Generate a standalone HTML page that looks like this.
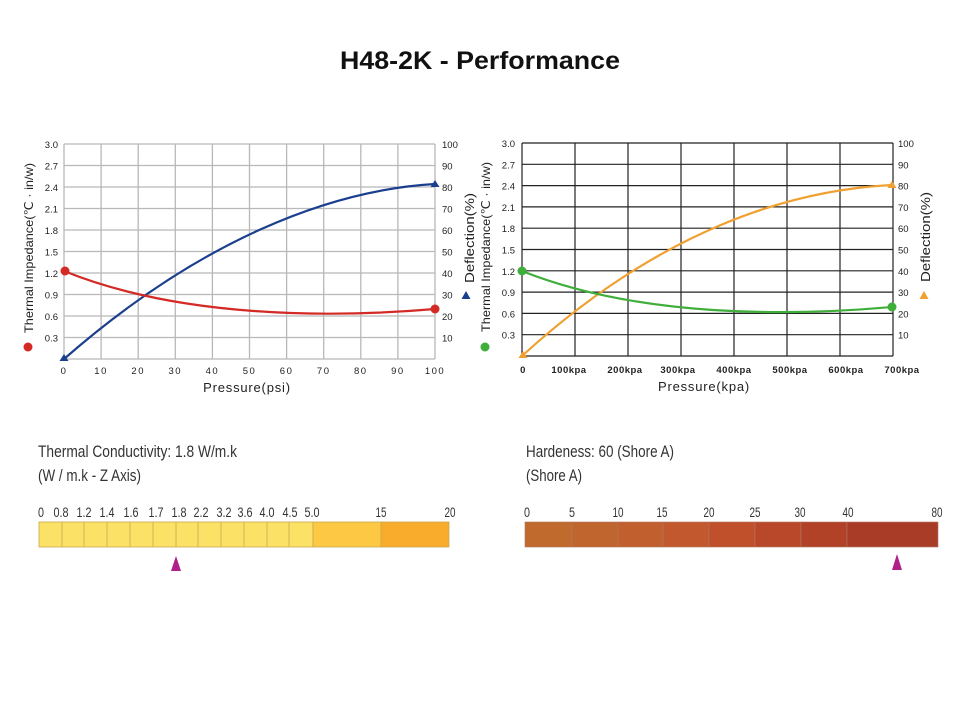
<!DOCTYPE html>
<html><head><meta charset="utf-8"><style>html,body{margin:0;padding:0;background:#fff}svg{display:block}</style></head><body>
<svg width="960" height="720" viewBox="0 0 960 720" xmlns="http://www.w3.org/2000/svg" font-family="Liberation Sans, sans-serif">
<text x="340" y="69" font-size="25" font-weight="bold" fill="#111" textLength="280" lengthAdjust="spacingAndGlyphs">H48-2K - Performance</text>

<!-- Left chart -->
<g stroke="#b8b8b8" stroke-width="1.3" fill="none">
<path d="M64,144V359M101.1,144V359M138.2,144V359M175.3,144V359M212.4,144V359M249.5,144V359M286.6,144V359M323.7,144V359M360.8,144V359M397.9,144V359M435,144V359"/>
<path d="M64,144H435M64,165.5H435M64,187H435M64,208.5H435M64,230H435M64,251.5H435M64,273H435M64,294.5H435M64,316H435M64,337.5H435M64,359H435"/>
</g>
<g font-size="9.5" fill="#222" text-anchor="end">
<text x="58" y="148">3.0</text><text x="58" y="169.5">2.7</text><text x="58" y="191">2.4</text><text x="58" y="212.5">2.1</text><text x="58" y="234">1.8</text><text x="58" y="255.5">1.5</text><text x="58" y="277">1.2</text><text x="58" y="298.5">0.9</text><text x="58" y="320">0.6</text><text x="58" y="341.5">0.3</text>
</g>
<g font-size="9.5" fill="#222">
<text x="442" y="148">100</text><text x="442" y="169.5">90</text><text x="442" y="191">80</text><text x="442" y="212.5">70</text><text x="442" y="234">60</text><text x="442" y="255.5">50</text><text x="442" y="277">40</text><text x="442" y="298.5">30</text><text x="442" y="320">20</text><text x="442" y="341.5">10</text>
</g>
<g font-size="9.5" fill="#222" text-anchor="middle" letter-spacing="1.5">
<text x="64" y="374">0</text><text x="101.1" y="374">10</text><text x="138.2" y="374">20</text><text x="175.3" y="374">30</text><text x="212.4" y="374">40</text><text x="249.5" y="374">50</text><text x="286.6" y="374">60</text><text x="323.7" y="374">70</text><text x="360.8" y="374">80</text><text x="397.9" y="374">90</text><text x="435" y="374">100</text>
</g>
<text x="247" y="392" text-anchor="middle" font-size="13" fill="#222" letter-spacing="0.8">Pressure(psi)</text>
<text transform="translate(33,248) rotate(-90)" text-anchor="middle" font-size="12" fill="#222" textLength="170" lengthAdjust="spacingAndGlyphs">Thermal Impedance(℃ · in/w)</text>
<circle cx="28" cy="347" r="4.5" fill="#d42a26"/>
<text transform="translate(474,238) rotate(-90)" text-anchor="middle" font-size="13" fill="#222" textLength="90" lengthAdjust="spacingAndGlyphs">Deflection(%)</text>
<path d="M466,291 L470.5,299 L461.5,299Z" fill="#1b3f8f"/>
<path d="M64,359 C200,240 330,190 435,184" stroke="#1b3f8f" stroke-width="2.2" fill="none"/>
<path d="M64,271 C180,318 330,318 435,309" stroke="#d42a26" stroke-width="2.2" fill="none"/>
<circle cx="65" cy="271" r="4.5" fill="#d42a26"/><circle cx="435" cy="309" r="4.5" fill="#d42a26"/>
<path d="M64,354 L68.5,361 L59.5,361Z" fill="#1b3f8f"/><path d="M435,180 L439.5,187 L430.5,187Z" fill="#1b3f8f"/>

<!-- Right chart -->
<g stroke="#222" stroke-width="1.2" fill="none">
<path d="M522,143V356M575,143V356M628,143V356M681,143V356M734,143V356M787,143V356M840,143V356M893,143V356"/>
<path d="M522,143H893M522,164.3H893M522,185.6H893M522,206.9H893M522,228.2H893M522,249.5H893M522,270.8H893M522,292.1H893M522,313.4H893M522,334.7H893M522,356H893"/>
</g>
<g font-size="9.5" fill="#222" text-anchor="end">
<text x="515" y="147">3.0</text><text x="515" y="168.3">2.7</text><text x="515" y="189.6">2.4</text><text x="515" y="210.9">2.1</text><text x="515" y="232.2">1.8</text><text x="515" y="253.5">1.5</text><text x="515" y="274.8">1.2</text><text x="515" y="296.1">0.9</text><text x="515" y="317.4">0.6</text><text x="515" y="338.7">0.3</text>
</g>
<g font-size="9.5" fill="#222">
<text x="898" y="147">100</text><text x="898" y="168.3">90</text><text x="898" y="189.6">80</text><text x="898" y="210.9">70</text><text x="898" y="232.2">60</text><text x="898" y="253.5">50</text><text x="898" y="274.8">40</text><text x="898" y="296.1">30</text><text x="898" y="317.4">20</text><text x="898" y="338.7">10</text>
</g>
<g font-size="9.5" fill="#222" text-anchor="middle" font-weight="bold" letter-spacing="0.5">
<text x="523" y="373">0</text><text x="569" y="373">100kpa</text><text x="625" y="373">200kpa</text><text x="678" y="373">300kpa</text><text x="734" y="373">400kpa</text><text x="790" y="373">500kpa</text><text x="846" y="373">600kpa</text><text x="902" y="373">700kpa</text>
</g>
<text x="704" y="391" text-anchor="middle" font-size="13" fill="#222" letter-spacing="0.8">Pressure(kpa)</text>
<text transform="translate(490,247) rotate(-90)" text-anchor="middle" font-size="12" fill="#222" textLength="170" lengthAdjust="spacingAndGlyphs">Thermal Impedance(℃ · in/w)</text>
<circle cx="485" cy="347" r="4.5" fill="#3fae3a"/>
<text transform="translate(930,237) rotate(-90)" text-anchor="middle" font-size="13" fill="#222" textLength="90" lengthAdjust="spacingAndGlyphs">Deflection(%)</text>
<path d="M924,291 L928.5,299 L919.5,299Z" fill="#f0a030"/>
<path d="M522,356 C660,230 790,190 892,185" stroke="#f0a030" stroke-width="2.2" fill="none"/>
<path d="M522,271 C640,318 790,316 892,307" stroke="#3fae3a" stroke-width="2.2" fill="none"/>
<circle cx="522" cy="271" r="4.5" fill="#3fae3a"/><circle cx="892" cy="307" r="4.5" fill="#3fae3a"/>
<path d="M523,351 L527.5,358 L518.5,358Z" fill="#f0a030"/><path d="M892,181 L896.5,188 L887.5,188Z" fill="#f0a030"/>

<!-- Labels -->
<g font-size="17" fill="#333">
<text x="38" y="457" textLength="199" lengthAdjust="spacingAndGlyphs">Thermal Conductivity: 1.8 W/m.k</text>
<text x="38" y="481" textLength="103" lengthAdjust="spacingAndGlyphs">(W / m.k - Z Axis)</text>
<text x="526" y="457" textLength="148" lengthAdjust="spacingAndGlyphs">Hardeness: 60 (Shore A)</text>
<text x="526" y="481" textLength="56" lengthAdjust="spacingAndGlyphs">(Shore A)</text>
</g>
<g stroke="#c8a850" stroke-width="0.8">
<rect x="39" y="522" width="274" height="25" fill="#fbe266"/>
<rect x="313" y="522" width="68" height="25" fill="#fdc944"/>
<rect x="381" y="522" width="68" height="25" fill="#f9ab2c"/>
<path d="M62,522V547M84,522V547M107,522V547M130,522V547M153,522V547M176,522V547M198,522V547M221,522V547M244,522V547M267,522V547M289,522V547" fill="none"/>
</g>
<g font-size="14" fill="#333" text-anchor="middle">
<text x="41" y="517" textLength="6" lengthAdjust="spacingAndGlyphs">0</text>
<text x="61" y="517" textLength="15" lengthAdjust="spacingAndGlyphs">0.8</text>
<text x="84" y="517" textLength="15" lengthAdjust="spacingAndGlyphs">1.2</text>
<text x="107" y="517" textLength="15" lengthAdjust="spacingAndGlyphs">1.4</text>
<text x="131" y="517" textLength="15" lengthAdjust="spacingAndGlyphs">1.6</text>
<text x="156" y="517" textLength="15" lengthAdjust="spacingAndGlyphs">1.7</text>
<text x="179" y="517" textLength="15" lengthAdjust="spacingAndGlyphs">1.8</text>
<text x="201" y="517" textLength="15" lengthAdjust="spacingAndGlyphs">2.2</text>
<text x="224" y="517" textLength="15" lengthAdjust="spacingAndGlyphs">3.2</text>
<text x="245" y="517" textLength="15" lengthAdjust="spacingAndGlyphs">3.6</text>
<text x="267" y="517" textLength="15" lengthAdjust="spacingAndGlyphs">4.0</text>
<text x="290" y="517" textLength="15" lengthAdjust="spacingAndGlyphs">4.5</text>
<text x="312" y="517" textLength="15" lengthAdjust="spacingAndGlyphs">5.0</text>
<text x="381" y="517" textLength="11" lengthAdjust="spacingAndGlyphs">15</text>
<text x="450" y="517" textLength="11" lengthAdjust="spacingAndGlyphs">20</text>
</g>
<path d="M176,556 L181,571 L171,571Z" fill="#b0208a"/>

<!-- Hardness bar -->
<g stroke="#b07860" stroke-width="0.6">
<rect x="525" y="522" width="47" height="25" fill="#c06a2e"/>
<rect x="572" y="522" width="46" height="25" fill="#bf652d"/>
<rect x="618" y="522" width="45" height="25" fill="#c15f2e"/>
<rect x="663" y="522" width="46" height="25" fill="#c1582e"/>
<rect x="709" y="522" width="46" height="25" fill="#c04f2b"/>
<rect x="755" y="522" width="46" height="25" fill="#b9472a"/>
<rect x="801" y="522" width="46" height="25" fill="#b14227"/>
<rect x="847" y="522" width="91" height="25" fill="#a83c26"/>
</g>
<g font-size="14" fill="#333" text-anchor="middle">
<text x="527" y="517" textLength="6" lengthAdjust="spacingAndGlyphs">0</text>
<text x="572" y="517" textLength="6" lengthAdjust="spacingAndGlyphs">5</text>
<text x="618" y="517" textLength="11" lengthAdjust="spacingAndGlyphs">10</text>
<text x="662" y="517" textLength="11" lengthAdjust="spacingAndGlyphs">15</text>
<text x="709" y="517" textLength="11" lengthAdjust="spacingAndGlyphs">20</text>
<text x="755" y="517" textLength="11" lengthAdjust="spacingAndGlyphs">25</text>
<text x="800" y="517" textLength="11" lengthAdjust="spacingAndGlyphs">30</text>
<text x="848" y="517" textLength="11" lengthAdjust="spacingAndGlyphs">40</text>
<text x="937" y="517" textLength="11" lengthAdjust="spacingAndGlyphs">80</text>
</g>
<path d="M897,554 L902,570 L892,570Z" fill="#b0208a"/>
</svg>
</body></html>
